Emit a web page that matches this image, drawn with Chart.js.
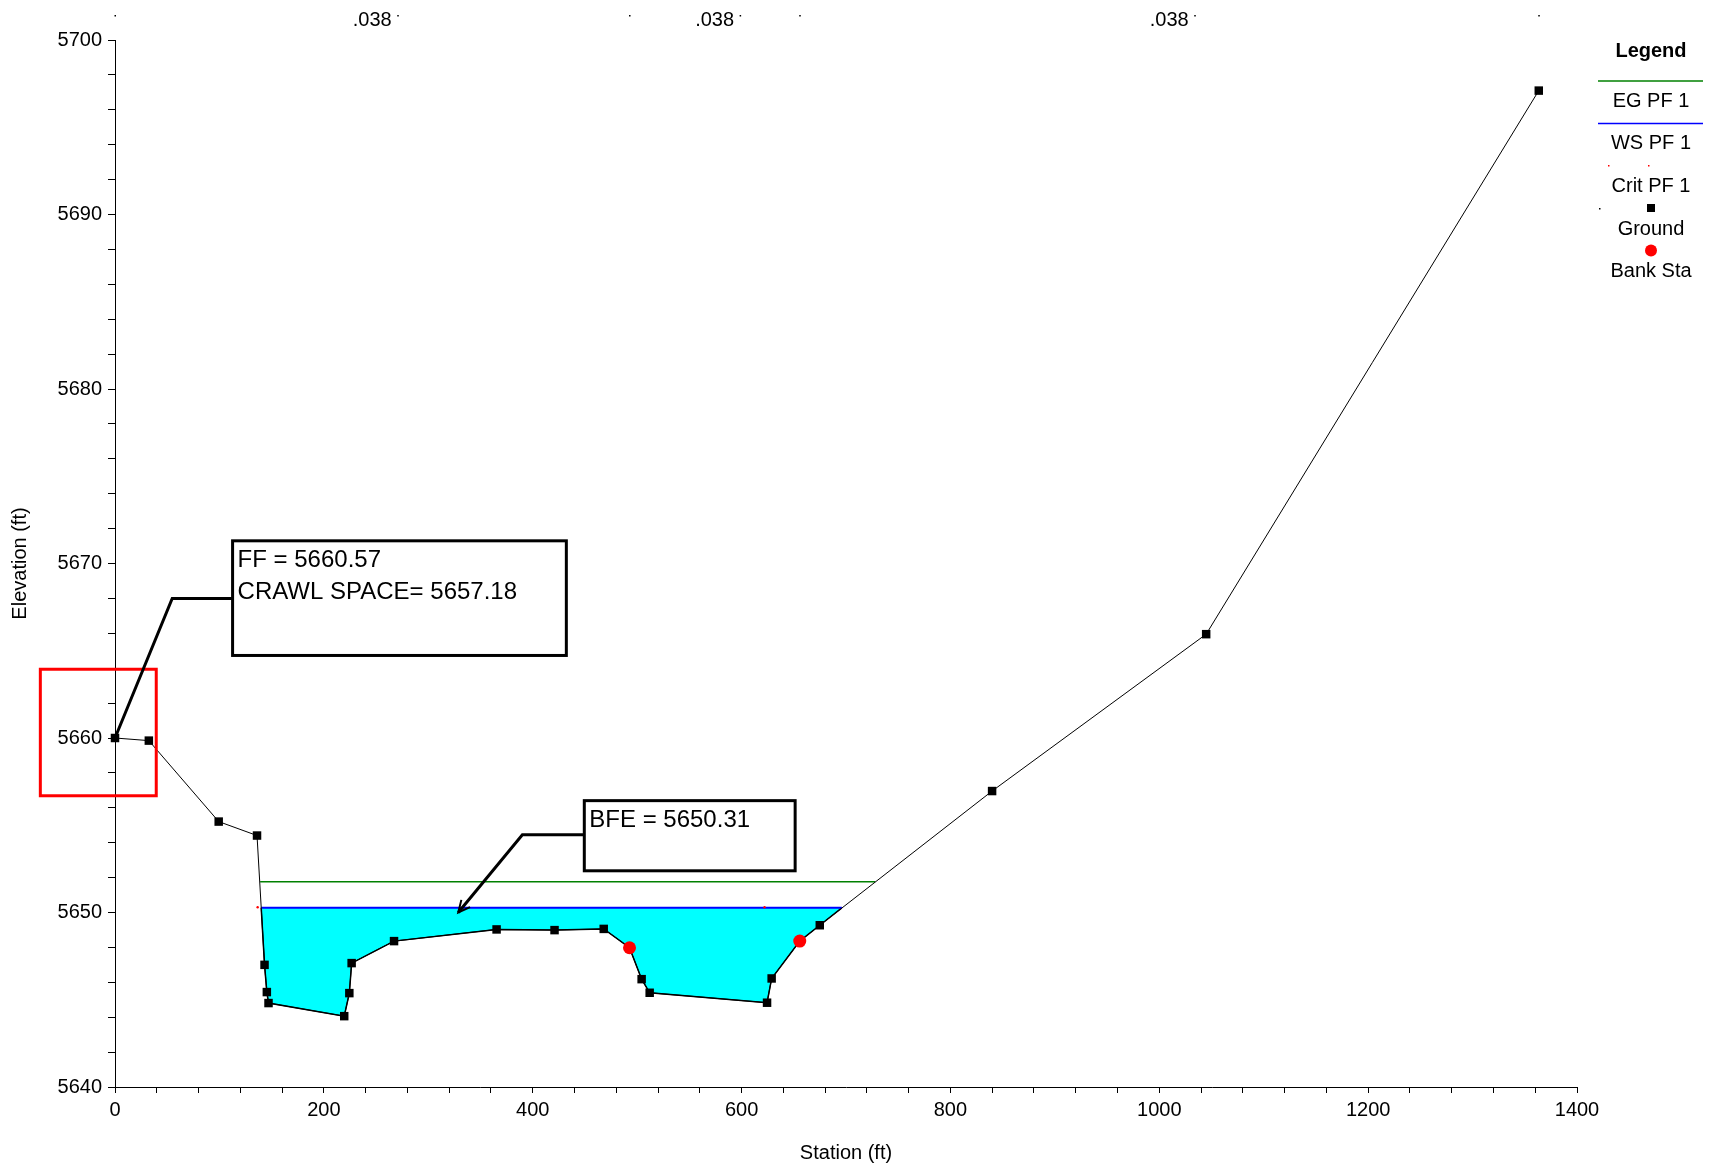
<!DOCTYPE html>
<html>
<head>
<meta charset="utf-8">
<title>Cross Section</title>
<script src="https://cdn.jsdelivr.net/npm/chart.js@4.4.0/dist/chart.umd.min.js"></script>
<style>
  html, body { margin: 0; padding: 0; background: #fff; }
  #wrap { width: 1715px; height: 1170px; }
</style>
</head>
<body>
<div id="wrap"><canvas id="xs" width="1715" height="1170"></canvas></div>
<script>
// ground profile (station ft, elevation ft)
var groundSta  = [0, 32.4, 99.3, 136, 143.2, 145.4, 147, 219.5, 224.4, 226.6, 267.2, 365.4, 420.9, 468, 492.7,
                  504.3, 512, 624.4, 628.8, 655.7, 674.9, 839.9, 1044.9, 1363.4];
var groundElev = [5660.0, 5659.85, 5655.21, 5654.41, 5647.0, 5645.44, 5644.81, 5644.06, 5645.38, 5647.1, 5648.36,
                  5649.03, 5648.99, 5649.06, 5647.98, 5646.18, 5645.4, 5644.83, 5646.22, 5648.36, 5649.27,
                  5656.96, 5665.95, 5697.1];
// bank stations
var bankSta  = [492.7, 655.7];
var bankElev = [5647.98, 5648.36];
// water surface, energy grade, critical
var wsSta  = [140, 696];
var wsElev = 5650.27;
var egSta  = [139, 728];
var egElev = 5651.76;
var critSta  = [136.6, 622];
var critElev = 5650.3;
// manning n regions
var nBounds = [0, 492.7, 655.7, 1363.4];
var nValues = ['.038', '.038', '.038'];
// axes
var xMin = 0, xMax = 1400, xStep = 40, xLabelEvery = 200;
var yMin = 5640, yMax = 5700, yStep = 2, yLabelEvery = 10;

// callouts, in station / elevation units
var callouts = [
  { box: [112.6, 5671.3, 432.2, 5664.73], text: ['FF = 5660.57', 'CRAWL SPACE= 5657.18'],
    leader: [[112.6, 5668.0], [54.8, 5668.0], [0, 5660.0]], arrow: false },
  { box: [449.4, 5656.41, 651.3, 5652.39], text: ['BFE = 5650.31'],
    leader: [[449.4, 5654.45], [390.1, 5654.45], [328.7, 5650.0]], arrow: true }
];
var highlight = [-71.5, 5663.94, 39.5, 5656.69];

function pts(xs, ys) {
  return xs.map(function (x, i) { return { x: x, y: Array.isArray(ys) ? ys[i] : ys }; });
}

var ground = pts(groundSta, groundElev);
var water = [{ x: wsSta[0], y: wsElev }]
  .concat(ground.filter(function (p) { return p.x > wsSta[0] && p.x < wsSta[1]; }))
  .concat([{ x: wsSta[1], y: wsElev }]);

Chart.defaults.font.family = '"Liberation Sans", Arial, sans-serif';
Chart.defaults.font.size = 20;
Chart.defaults.color = '#000';

var overlay = {
  id: 'overlay',
  afterDatasetsDraw: function (chart) {
    var c = chart.ctx, xs = chart.scales.x, ys = chart.scales.y, area = chart.chartArea;
    var px = function (v) { return xs.getPixelForValue(v); };
    var py = function (v) { return ys.getPixelForValue(v); };
    var fam = '"Liberation Sans", Arial, sans-serif';
    c.save();

    // n values along the top
    c.fillStyle = '#000';
    c.font = '20px ' + fam;
    c.textAlign = 'center';
    c.textBaseline = 'middle';
    for (var i = 0; i < nValues.length; i++) {
      var cx = px((nBounds[i] + nBounds[i + 1]) / 2);
      c.fillText(nValues[i], cx, area.top - 20);
      c.fillRect(cx + 25, area.top - 25, 1.5, 1.5);
    }
    nBounds.forEach(function (b) { c.fillRect(px(b) - 0.5, area.top - 25, 1.5, 1.5); });

    // highlight rectangle
    c.strokeStyle = '#ff0000';
    c.lineWidth = 3;
    c.strokeRect(px(highlight[0]), py(highlight[1]), px(highlight[2]) - px(highlight[0]), py(highlight[3]) - py(highlight[1]));

    // callouts
    callouts.forEach(function (n) {
      var x0 = px(n.box[0]), y0 = py(n.box[1]), x1 = px(n.box[2]), y1 = py(n.box[3]);
      c.fillStyle = '#fff';
      c.fillRect(x0, y0, x1 - x0, y1 - y0);
      c.strokeStyle = '#000';
      c.lineWidth = 3;
      c.strokeRect(x0, y0, x1 - x0, y1 - y0);
      c.fillStyle = '#000';
      c.font = '24px ' + fam;
      c.textAlign = 'left';
      c.textBaseline = 'middle';
      n.text.forEach(function (t, k) { c.fillText(t, x0 + 5, y0 + 20 + k * 32); });

      c.beginPath();
      n.leader.forEach(function (p, k) {
        if (k === 0) c.moveTo(px(p[0]), py(p[1])); else c.lineTo(px(p[0]), py(p[1]));
      });
      c.lineWidth = 3;
      c.stroke();
      if (n.arrow) {
        var a = n.leader[n.leader.length - 2], b = n.leader[n.leader.length - 1];
        var ax = px(a[0]), ay = py(a[1]), bx = px(b[0]), by = py(b[1]);
        var ang = Math.atan2(by - ay, bx - ax);
        c.beginPath();
        c.moveTo(bx - 13 * Math.cos(ang - 0.45), by - 13 * Math.sin(ang - 0.45));
        c.lineTo(bx, by);
        c.lineTo(bx - 13 * Math.cos(ang + 0.45), by - 13 * Math.sin(ang + 0.45));
        c.lineWidth = 2;
        c.stroke();
      }
    });

    // legend
    var lx = 1651, ll = 1598, lr = 1703;
    c.textAlign = 'center';
    c.textBaseline = 'middle';
    c.font = 'bold 20px ' + fam;
    c.fillText('Legend', lx, 51);
    c.font = '20px ' + fam;
    c.lineWidth = 1.5;
    c.strokeStyle = '#008000';
    c.beginPath(); c.moveTo(ll, 81); c.lineTo(lr, 81); c.stroke();
    c.fillText('EG PF 1', lx, 101);
    c.strokeStyle = '#0000ff';
    c.beginPath(); c.moveTo(ll, 123.5); c.lineTo(lr, 123.5); c.stroke();
    c.fillText('WS PF 1', lx, 143);
    c.fillStyle = '#ff0000';
    c.fillRect(1608, 165, 1.5, 1.5);
    c.fillRect(1648, 165, 1.5, 1.5);
    c.fillStyle = '#000';
    c.fillText('Crit PF 1', lx, 186);
    c.fillRect(1599, 208, 1.5, 1.5);
    c.fillRect(lx - 4, 204, 8, 8);
    c.fillText('Ground', lx, 229);
    c.fillStyle = '#ff0000';
    c.beginPath(); c.arc(lx, 250.5, 6, 0, Math.PI * 2); c.fill();
    c.fillStyle = '#000';
    c.fillText('Bank Sta', lx, 271);

    c.restore();
  }
};

var chart = new Chart(document.getElementById('xs'), {
  type: 'line',
  data: {
    datasets: [
      { label: 'Bank Sta', data: pts(bankSta, bankElev), showLine: false, pointStyle: 'circle',
        pointRadius: 6.5, backgroundColor: '#ff0000', borderColor: '#ff0000', borderWidth: 0, clip: false, order: 0 },
      { label: 'Ground', data: ground, borderColor: '#000', borderWidth: 1, pointStyle: 'rect', pointRadius: 6,
        pointBackgroundColor: '#000', pointBorderWidth: 0, clip: false, order: 1 },
      { label: 'Crit PF 1', data: pts(critSta, critElev), showLine: false, pointRadius: 1.2,
        backgroundColor: '#ff0000', borderWidth: 0, order: 2 },
      { label: 'WS PF 1', data: pts(wsSta, wsElev), borderColor: '#0000ff', borderWidth: 2, pointRadius: 0, order: 3 },
      { label: 'EG PF 1', data: pts(egSta, egElev), borderColor: '#008000', borderWidth: 1.5, pointRadius: 0, order: 4 },
      { label: 'water', data: water, borderColor: '#000', borderWidth: 1.5, pointRadius: 0,
        backgroundColor: '#00ffff', fill: { target: { value: wsElev }, above: '#00ffff', below: '#00ffff' }, order: 5 }
    ]
  },
  options: {
    responsive: false,
    animation: false,
    events: [],
    layout: { padding: { left: 0, right: 138, top: 40, bottom: 0 } },
    plugins: { legend: { display: false }, tooltip: { enabled: false } },
    scales: {
      x: {
        type: 'linear', min: xMin, max: xMax,
        afterFit: function (s) { s.height = 83; },
        ticks: { stepSize: xStep, autoSkip: false, maxRotation: 0, padding: 5,
          callback: function (v) { return v % xLabelEvery === 0 ? v : ''; } },
        grid: { drawOnChartArea: false, tickLength: 6, color: '#000' },
        border: { color: '#000', width: 1 },
        title: { display: true, text: 'Station (ft)', font: { size: 20 }, padding: { bottom: 5 } }
      },
      y: {
        type: 'linear', min: yMin, max: yMax,
        afterFit: function (s) { s.width = 115; },
        ticks: { stepSize: yStep, autoSkip: false, padding: 6,
          callback: function (v) { return v % yLabelEvery === 0 ? v : ''; } },
        grid: { drawOnChartArea: false, tickLength: 7, color: '#000' },
        border: { color: '#000', width: 1 },
        title: { display: true, text: 'Elevation (ft)', font: { size: 20 }, padding: { top: 8 } }
      }
    }
  },
  plugins: [overlay]
});
</script>
</body>
</html>
